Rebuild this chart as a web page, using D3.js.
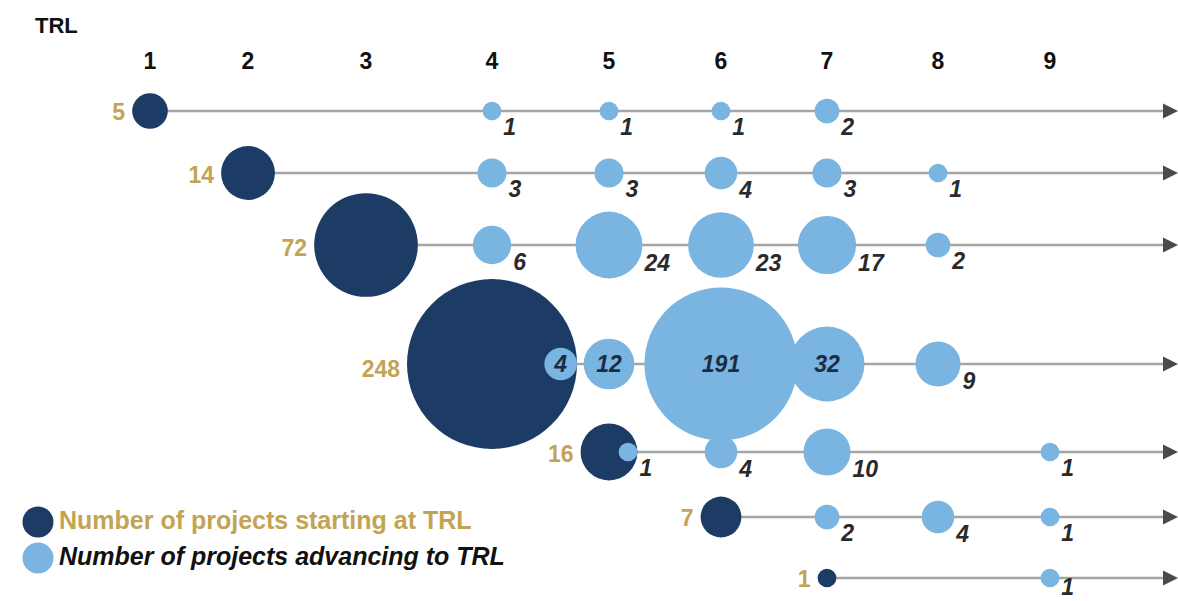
<!DOCTYPE html>
<html><head><meta charset="utf-8">
<script src="https://cdn.jsdelivr.net/npm/d3@7/dist/d3.min.js"></script>
<style>
html,body{margin:0;padding:0;background:#fff;}
svg{display:block;font-family:"Liberation Sans",Arial,sans-serif;}
</style></head>
<body><svg id="c" width="1178" height="601"></svg>
<script>
// ---- data ----
const trls = [1,2,3,4,5,6,7,8,9];
const startTRL = [1,2,3,4,5,6,7];
const startCounts = [5,14,72,248,16,7,1];
const advTRL = [
  [4,5,6,7],
  [4,5,6,7,8],
  [4,5,6,7,8],
  [4,5,6,7,8],
  [5,6,7,9],
  [7,8,9],
  [9]
];
const advCounts = [
  [1,1,1,2],
  [3,3,4,3,1],
  [6,24,23,17,2],
  [4,12,191,32,9],
  [1,4,10,1],
  [2,4,1],
  [1]
];
const legendLabels = ["Number of projects starting at TRL","Number of projects advancing to TRL"];

// ---- styles ----
const DARK = "#1d3c65", LIGHT = "#7ab4e0", GOLD = "#c3a354", LINE = "#a5a5a5";
const FS = 23;

const svg = d3.select("#c");
const x = d3.scaleOrdinal().domain(trls).range([150,248,366,492,609,721,827,938,1050]);
const y = d3.scaleOrdinal().domain(startTRL).range([111,173,245,364,452,517,578]);
const r = d3.scalePow().exponent(0.4).domain([0,248]).range([0,85]);

// header
svg.append("text").attr("x",35).attr("y",33).attr("font-size",22).attr("font-weight","bold").attr("fill","#111").text("TRL");
svg.append("g").selectAll("text").data(trls).join("text")
  .attr("x",d=>x(d)).attr("y",69).attr("text-anchor","middle")
  .attr("font-size",FS).attr("font-weight","bold").attr("fill","#111").text(d=>d);

const rows = startTRL.map((s,i)=>{
  const cx = x(s), cy = y(s), rd = r(startCounts[i]);
  const adv = advTRL[i].map((t,j)=>{
    const v = advCounts[i][j], rr = r(v);
    const ax = (t===s) ? cx + rd - rr : x(t);
    return {t, v, cx:ax, cy, r:rr};
  });
  return {s, n:startCounts[i], cx, cy, r:rd, adv};
});

// label inside a bubble when it touches a neighbour
rows.forEach(row=>{
  const all = [{cx:row.cx,r:row.r}].concat(row.adv);
  row.adv.forEach((b,k)=>{
    const prev = all[k], next = all[k+2];
    const gp = prev ? (b.cx - b.r) - (prev.cx + prev.r) : 999;
    const gn = next ? (next.cx - next.r) - (b.cx + b.r) : 999;
    b.inside = b.r >= 15 && Math.min(gp,gn) < 12;
  });
});

const g = svg.append("g");
rows.forEach(row=>{
  g.append("line").attr("x1",row.cx).attr("x2",1166).attr("y1",row.cy).attr("y2",row.cy)
    .attr("stroke",LINE).attr("stroke-width",2.4);
  g.append("path").attr("d",`M1163,${row.cy-7.5}L1178,${row.cy}L1163,${row.cy+7.5}Z`).attr("fill","#4a4a4a");
});
rows.forEach(row=>{
  g.append("circle").attr("cx",row.cx).attr("cy",row.cy).attr("r",row.r).attr("fill",DARK);
  g.append("text").attr("x",row.cx-row.r-7).attr("y",row.cy+8+row.r*0.06).attr("text-anchor","end")
    .attr("font-size",FS).attr("font-weight","bold").attr("fill",GOLD).text(row.n);
  row.adv.forEach(b=>{
    g.append("circle").attr("cx",b.cx).attr("cy",b.cy).attr("r",b.r).attr("fill",LIGHT);
  });
});
rows.forEach(row=>{
  row.adv.forEach(b=>{
    const t = g.append("text").attr("font-size",FS).attr("font-style","italic").attr("font-weight","bold")
      .attr("fill","#2a2a2a").text(b.v);
    if (b.inside) {
      t.attr("x",b.cx).attr("y",b.cy+8).attr("text-anchor","middle").attr("fill","#1c2c44");
    } else {
      t.attr("x",b.cx+b.r+2).attr("y",Math.min(595, b.cy+23+0.1*b.r));
    }
  });
});

// legend
const lg = svg.append("g");
legendLabels.forEach((l,i)=>{
  const ly = 522 + i*36;
  lg.append("circle").attr("cx",38).attr("cy",ly).attr("r",15.5).attr("fill",i===0?DARK:LIGHT);
  lg.append("text").attr("x",59).attr("y",ly+7).attr("font-size",25).attr("font-weight","bold")
    .attr("font-style",i===0?"normal":"italic").attr("fill",i===0?GOLD:"#111").text(l);
});
</script></body></html>
